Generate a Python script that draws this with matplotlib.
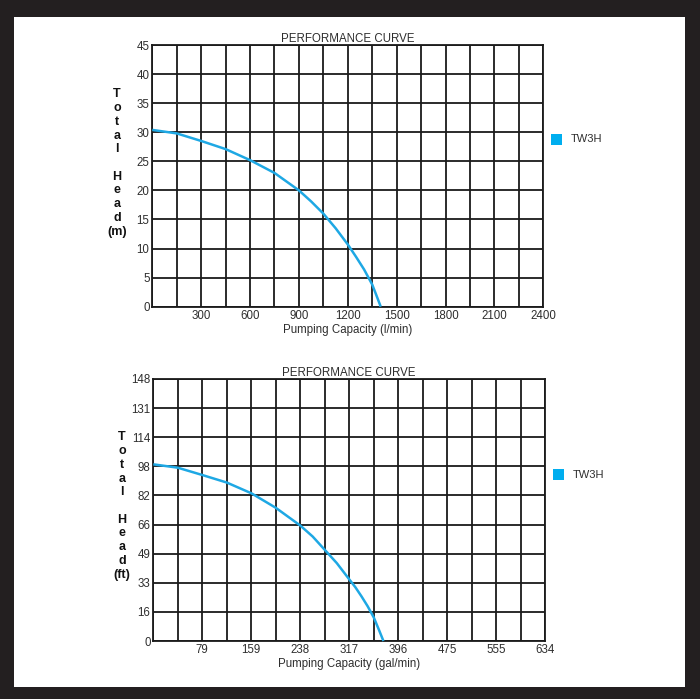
import numpy as np
import matplotlib
matplotlib.use("Agg")
import matplotlib.pyplot as plt
from matplotlib.patches import Rectangle
from matplotlib.ticker import FixedLocator

plt.rcParams['font.family'] = ['Liberation Sans', 'DejaVu Sans']

# ---------------- data ----------------
series_name = "TW3H"
title = "PERFORMANCE CURVE"

# metric chart
flow_lpm = [0, 150, 300, 450, 600, 750, 900, 975, 1050, 1125, 1200, 1250, 1300, 1325, 1350, 1375, 1402]
head_m = [30.4, 29.8, 28.5, 27.1, 25.2, 23.0, 20.0, 18.1, 16.0, 13.5, 10.7, 8.6, 6.4, 5.1, 3.8, 2.0, 0.0]
x_labels_m = ["300", "600", "900", "1200", "1500", "1800", "2100", "2400"]
y_labels_m = ["0", "5", "10", "15", "20", "25", "30", "35", "40", "45"]
xlabel_m = "Pumping Capacity (l/min)"
ylabel_m = ["T", "o", "t", "a", "l", "", "H", "e", "a", "d", "(m)"]

# imperial chart
flow_gpm = [0, 39.6, 79, 119, 159, 198, 238, 258, 277, 297, 317, 327, 337, 347, 357, 365, 372.5]
head_ft = [99.8, 97.9, 93.8, 89.5, 83.4, 75.3, 65.2, 59.0, 51.7, 44.0, 34.9, 30.4, 25.2, 19.6, 13.2, 6.5, 0.0]
x_labels_ft = ["79", "159", "238", "317", "396", "475", "555", "634"]
y_labels_ft = ["0", "16", "33", "49", "66", "82", "98", "114", "131", "148"]
xlabel_ft = "Pumping Capacity (gal/min)"
ylabel_ft = ["T", "o", "t", "a", "l", "", "H", "e", "a", "d", "(ft)"]

curve_color = "#1ea8e4"
legend_color = "#00aeef"
text_color = "#2e2e2e"

W, H = 700, 699
fig = plt.figure(figsize=(W / 100, H / 100), dpi=100)
fig.patch.set_facecolor("#231f20")
fig.patches.append(Rectangle((14 / W, 1 - 687 / H), (685 - 14) / W, (687 - 17) / H,
                             transform=fig.transFigure, facecolor="white",
                             edgecolor="none", zorder=-10))


def px_axes(left, top, right, bottom):
    return fig.add_axes([left / W, 1 - bottom / H, (right - left) / W, (bottom - top) / H])


def draw(ax, xs, ys, xmax, ymax, xlabels, ylabels, xlabel):
    ax.set_facecolor("white")
    ax.set_xlim(0, xmax)
    ax.set_ylim(0, ymax)
    n_x = len(xlabels)
    xpos = np.linspace(0, xmax, n_x + 1)[1:]
    ax.xaxis.set_major_locator(FixedLocator(xpos))
    ax.set_xticklabels(xlabels)
    ax.xaxis.set_minor_locator(FixedLocator(np.linspace(0, xmax, 2 * n_x + 1)))
    ypos = np.linspace(0, ymax, len(ylabels))
    ax.yaxis.set_major_locator(FixedLocator(ypos))
    ax.set_yticklabels(ylabels)
    ax.grid(True, which="both", color="#1a1a1a", linewidth=1.3)
    ax.set_axisbelow(True)
    ax.tick_params(which="both", length=0, labelsize=8.3, labelcolor=text_color)
    ax.tick_params(axis="x", pad=2.5)
    ax.tick_params(axis="y", pad=2.0)
    for s in ax.spines.values():
        s.set_color("#1a1a1a")
        s.set_linewidth(1.3)
    ax.plot(xs, ys, color=curve_color, linewidth=1.8, solid_capstyle="butt",
            solid_joinstyle="round", zorder=3, clip_on=False)
    ax.set_title(title, fontsize=8.3, color=text_color, pad=2.0)
    ax.set_xlabel(xlabel, fontsize=8.3, color=text_color, labelpad=1.0)


ax1 = px_axes(152.3, 45, 543.3, 306.7)
draw(ax1, flow_lpm, head_m, 2400, 45, x_labels_m, y_labels_m, xlabel_m)
ax2 = px_axes(153.3, 379, 545, 641)
draw(ax2, flow_gpm, head_ft, 634, 148, x_labels_ft, y_labels_ft, xlabel_ft)

# vertical stacked y labels
fig.text(117 / W, 1 - 163 / H, "\n".join(ylabel_m), ha="center", va="center",
         fontsize=9, fontweight="bold", linespacing=1.19, color="#111111")
fig.text(122 / W, 1 - 506 / H, "\n".join(ylabel_ft), ha="center", va="center",
         fontsize=9, fontweight="bold", linespacing=1.19, color="#111111")

# legends
for (sx, sy, tx) in [(551, 134, 571), (553, 469, 573)]:
    fig.patches.append(Rectangle((sx / W, 1 - (sy + 11) / H), 11 / W, 11 / H,
                                 transform=fig.transFigure, facecolor=legend_color,
                                 edgecolor="none"))
    fig.text(tx / W, 1 - (sy + 5.5) / H, series_name, ha="left", va="center",
             fontsize=8, color=text_color)

fig.savefig("out.png", dpi=100, facecolor=fig.get_facecolor())
